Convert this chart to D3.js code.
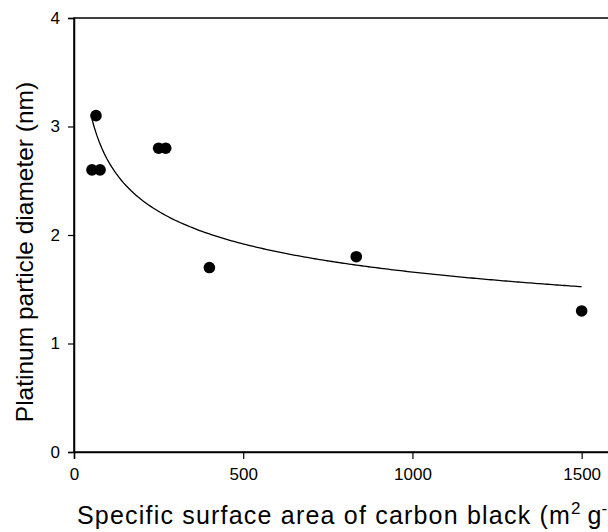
<!DOCTYPE html>
<html>
<head>
<meta charset="utf-8">
<script src="https://cdn.jsdelivr.net/npm/d3@7"></script>
<style>
    html, body { margin: 0; padding: 0; background: #fff; overflow: hidden; }
    svg { display: block; font-family: "Liberation Sans", Arial, Helvetica, sans-serif; }
</style>
</head>
<body>
<div id="chart"></div>
<script>
// specific surface area (m2/g) vs platinum particle diameter (nm)
var surfaceArea = [53, 77, 65, 250, 271, 400, 834, 1500];
var particleDiameter = [2.6, 2.6, 3.1, 2.8, 2.8, 1.7, 1.8, 1.3];
var xTicks = [0, 500, 1000, 1500];
var yTicks = [0, 1, 2, 3, 4];

var config = {
    width: 608,
    height: 532,
    margin: { left: 74, top: 18 },
    plotWidth: 541.5,
    plotHeight: 434
};

var svg = d3.select('#chart')
    .append('svg')
    .attr('width', config.width)
    .attr('height', config.height);

var x = d3.scaleLinear().domain([0, 1600]).range([config.margin.left, config.margin.left + config.plotWidth]);
var y = d3.scaleLinear().domain([0, 4]).range([config.margin.top + config.plotHeight, config.margin.top]);

//power regression y = a * x^b, least squares in log space
function powerFit(xs, ys) {
    var lx = xs.map(Math.log), ly = ys.map(Math.log);
    var mx = d3.mean(lx), my = d3.mean(ly);
    var sxy = d3.sum(lx, (v, i) => (v - mx) * (ly[i] - my));
    var sxx = d3.sum(lx, v => (v - mx) * (v - mx));
    var b = sxy / sxx;
    return { a: Math.exp(my - b * mx), b: b };
}
var fit = powerFit(surfaceArea, particleDiameter);
var xMin = d3.min(surfaceArea), xMax = d3.max(surfaceArea);
var fitLine = d3.range(0, 201).map(function (i) {
    var xv = xMin + (xMax - xMin) * i / 200;
    return [xv, fit.a * Math.pow(xv, fit.b)];
});

// frame (right side falls outside the picture)
svg.append('rect')
    .attr('x', x(0))
    .attr('y', y(4))
    .attr('width', x(1600) - x(0))
    .attr('height', y(0) - y(4))
    .attr('fill', 'none')
    .attr('stroke', '#000')
    .attr('stroke-width', 1.5);

// x axis
var xAxis = d3.axisBottom(x).tickValues(xTicks).tickSize(7).tickPadding(9).tickFormat(d3.format('d'));
svg.append('g')
    .attr('class', 'x axis')
    .attr('transform', 'translate(0,' + y(0) + ')')
    .call(xAxis);

// y axis
var yAxis = d3.axisLeft(y).tickValues(yTicks).tickSize(6).tickPadding(8).tickFormat(d3.format('d'));
svg.append('g')
    .attr('class', 'y axis')
    .attr('transform', 'translate(' + x(0) + ',0)')
    .call(yAxis);

svg.selectAll('.axis .domain').attr('stroke', '#000').attr('stroke-width', 1.5);
svg.selectAll('.axis .tick line').attr('stroke', '#000').attr('stroke-width', 1.2);
svg.selectAll('.axis .tick text').attr('fill', '#000').style('font-size', '17px');

// fitted curve
svg.append('path')
    .datum(fitLine)
    .attr('fill', 'none')
    .attr('stroke', '#000')
    .attr('stroke-width', 1.3)
    .attr('d', d3.line().x(d => x(d[0])).y(d => y(d[1])));

// data points
svg.selectAll('circle.pt')
    .data(surfaceArea.map((v, i) => [v, particleDiameter[i]]))
    .enter()
    .append('circle')
    .attr('class', 'pt')
    .attr('cx', d => x(d[0]))
    .attr('cy', d => y(d[1]))
    .attr('r', 5.8)
    .attr('fill', '#000');

// axes labels
var xLabel = svg.append('text')
    .attr('x', 77)
    .attr('y', 524)
    .style('font-size', '25px')
    .style('letter-spacing', '1.2px')
    .attr('fill', '#000');
xLabel.append('tspan').text('Specific surface area of carbon black (m');
xLabel.append('tspan').attr('dy', -10).style('font-size', '17px').style('letter-spacing', '0px').text('2');
xLabel.append('tspan').attr('dy', 10).style('letter-spacing', '0px').text(' g');
xLabel.append('tspan').attr('dy', -10).style('font-size', '17px').style('letter-spacing', '0px').text('-1');
xLabel.append('tspan').attr('dy', 10).text(')');

svg.append('text')
    .attr('text-anchor', 'middle')
    .attr('transform', 'rotate(-90)')
    .attr('x', -252)
    .attr('y', 33)
    .style('font-size', '24.5px')
    .attr('fill', '#000')
    .text('Platinum particle diameter (nm)');
</script>
</body>
</html>
